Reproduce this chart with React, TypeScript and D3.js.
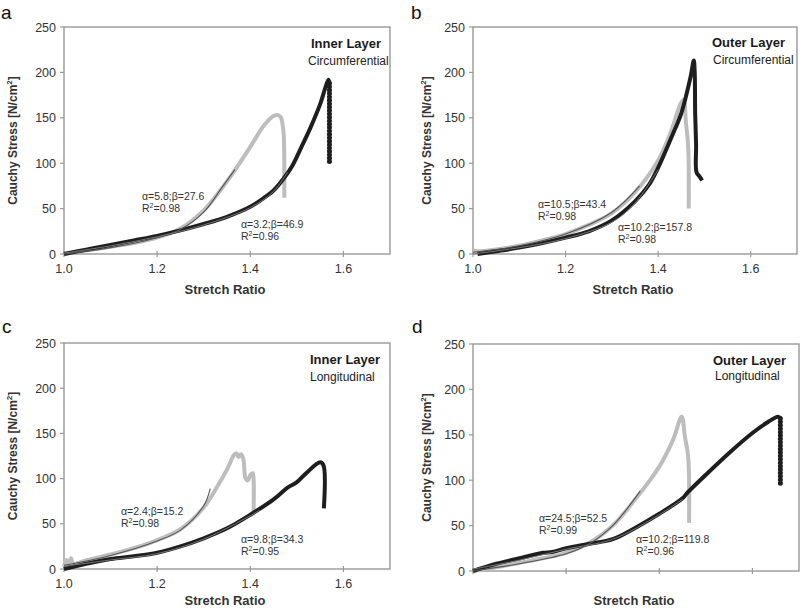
import * as d3 from "d3";

type Pt = [number, number];

// x ticks / y ticks shared by all four panels
const xTicks = [1.0, 1.2, 1.4, 1.6];
const yTicks = [0, 50, 100, 150, 200, 250];

// ---- panel a : inner layer, circumferential
const grayA: Pt[] = [[1.0, 0], [1.05, 4], [1.1, 8], [1.15, 12], [1.2, 18], [1.25, 28], [1.3, 48], [1.35, 80], [1.4, 118], [1.43, 142], [1.45, 152], [1.46, 153], [1.466, 150], [1.47, 140], [1.472, 130], [1.473, 100], [1.473, 62]];
const blackA: Pt[] = [[1.0, 0], [1.05, 5], [1.1, 10], [1.15, 15], [1.2, 20], [1.25, 26], [1.3, 33], [1.35, 41], [1.4, 52], [1.43, 62], [1.45, 70], [1.47, 82], [1.49, 97], [1.51, 118], [1.53, 140], [1.55, 165], [1.563, 186], [1.568, 192], [1.57, 188]];
const blackADrop: Pt[] = [[1.57, 188], [1.57, 101]];
const grayFitA: Pt[] = [[1.0, 0], [1.1, 7], [1.2, 18], [1.25, 27], [1.3, 46], [1.34, 74], [1.367, 93]];
const blackFitA: Pt[] = [[1.0, 1], [1.1, 9], [1.2, 19], [1.3, 32], [1.4, 51], [1.45, 69], [1.48, 90]];

// ---- panel b : outer layer, circumferential
const grayB: Pt[] = [[1.0, 4], [1.01, 3], [1.05, 5], [1.1, 9], [1.15, 15], [1.2, 22], [1.25, 32], [1.3, 45], [1.35, 68], [1.4, 103], [1.43, 138], [1.448, 165], [1.455, 170], [1.46, 145], [1.464, 125], [1.466, 100], [1.466, 50]];
const blackB: Pt[] = [[1.01, 0], [1.05, 3], [1.1, 7], [1.15, 12], [1.2, 18], [1.25, 25], [1.3, 37], [1.35, 58], [1.38, 76], [1.4, 95], [1.43, 130], [1.45, 155], [1.47, 195], [1.477, 213], [1.479, 200], [1.48, 155], [1.482, 120], [1.483, 90], [1.49, 85], [1.495, 81]];
const grayFitB: Pt[] = [[1.0, 2], [1.1, 9], [1.2, 22], [1.3, 46], [1.36, 75]];
const blackFitB: Pt[] = [[1.0, 0], [1.1, 7], [1.2, 17], [1.3, 35], [1.35, 56], [1.4, 93]];

// ---- panel c : inner layer, longitudinal
const grayC: Pt[] = [[1.0, 2], [1.005, 10], [1.01, 5], [1.015, 12], [1.02, 6], [1.05, 10], [1.1, 16], [1.15, 23], [1.2, 32], [1.25, 44], [1.3, 68], [1.33, 92], [1.35, 110], [1.365, 126], [1.37, 128], [1.375, 124], [1.38, 127], [1.385, 122], [1.39, 100], [1.395, 98], [1.4, 104], [1.405, 106], [1.407, 100], [1.407, 62]];
const blackC: Pt[] = [[1.0, 0], [1.05, 6], [1.1, 11], [1.15, 14], [1.2, 18], [1.25, 25], [1.3, 34], [1.35, 45], [1.4, 60], [1.45, 77], [1.48, 90], [1.5, 96], [1.52, 106], [1.55, 118], [1.557, 115], [1.558, 67]];
const grayFitC: Pt[] = [[1.0, 4], [1.1, 15], [1.2, 31], [1.25, 43], [1.3, 70], [1.314, 89]];
const blackFitC: Pt[] = [[1.0, 3], [1.1, 10], [1.2, 17], [1.3, 33], [1.4, 59], [1.42, 65]];

// ---- panel d : outer layer, longitudinal
const grayD: Pt[] = [[1.0, 0], [1.05, 4], [1.1, 9], [1.15, 14], [1.2, 20], [1.25, 31], [1.3, 50], [1.35, 80], [1.4, 115], [1.43, 145], [1.448, 170], [1.455, 148], [1.462, 126], [1.464, 53]];
const blackD: Pt[] = [[1.0, 0], [1.05, 8], [1.1, 14], [1.15, 20], [1.17, 21], [1.2, 25], [1.25, 30], [1.3, 35], [1.35, 48], [1.4, 63], [1.45, 80], [1.46, 86], [1.5, 106], [1.55, 130], [1.6, 152], [1.63, 163], [1.655, 170], [1.66, 168]];
const blackDDrop: Pt[] = [[1.66, 168], [1.66, 94]];
const grayFitD: Pt[] = [[1.0, 0], [1.1, 8], [1.2, 19], [1.25, 30], [1.3, 50], [1.359, 88]];
const blackFitD: Pt[] = [[1.0, 2], [1.1, 12], [1.2, 24], [1.3, 35], [1.4, 62], [1.45, 79]];

const fitLabels = [
  ["α=5.8;β=27.6", "0.98", "α=3.2;β=46.9", "0.96"],
  ["α=10.5;β=43.4", "0.98", "α=10.2;β=157.8", "0.98"],
  ["α=2.4;β=15.2", "0.98", "α=9.8;β=34.3", "0.95"],
  ["α=24.5;β=52.5", "0.99", "α=10.2;β=119.8", "0.96"],
];
const layerNames = ["Inner Layer", "Outer Layer", "Inner Layer", "Outer Layer"];
const directions = ["Circumferential", "Circumferential", "Longitudinal", "Longitudinal"];
const panelLetters = ["a", "b", "c", "d"];

// layout of each panel (pixels)
const panels = [
  { l: 64, t: 27, r: 390, b: 254, letter: [1, 19], yLab: 13, xTitle: 294, title: [311, 48, 308, 65], f1: [142, 200], f2: [241, 228], xLabels: true,
    gray: grayA, black: blackA, drop: blackADrop, grayFit: grayFitA, blackFit: blackFitA },
  { l: 473, t: 27, r: 797, b: 254, letter: [411, 19], yLab: 427, xTitle: 294, title: [712, 47, 713, 64], f1: [538, 208], f2: [618, 231], xLabels: true,
    gray: grayB, black: blackB, drop: null, grayFit: grayFitB, blackFit: blackFitB },
  { l: 64, t: 343, r: 390, b: 569, letter: [2, 333], yLab: 13, xTitle: 605, title: [310, 364, 310, 381], f1: [121, 515], f2: [241, 543], xLabels: true,
    gray: grayC, black: blackC, drop: null, grayFit: grayFitC, blackFit: blackFitC },
  { l: 473, t: 344, r: 799, b: 571, letter: [412, 333], yLab: 427, xTitle: 605, title: [713, 365, 715, 380], f1: [539, 522], f2: [636, 543], xLabels: false,
    gray: grayD, black: blackD, drop: blackDDrop, grayFit: grayFitD, blackFit: blackFitD },
];

const FONT = "'Liberation Sans', Arial, sans-serif";

function Panel({ p, i }: { p: (typeof panels)[number]; i: number }) {
  const x = d3.scaleLinear().domain([1.0, 1.7]).range([p.l, p.r]);
  const y = d3.scaleLinear().domain([0, 250]).range([p.b, p.t]);
  const line = d3.line<Pt>().x((d) => x(d[0])).y((d) => y(d[1])).curve(d3.curveCatmullRom.alpha(0.5));
  const straight = d3.line<Pt>().x((d) => x(d[0])).y((d) => y(d[1]));
  const [t1, t2, t3, t4] = fitLabels[i];
  const cx = (p.l + p.r) / 2 - 2;
  const cy = (p.t + p.b) / 2;

  return (
    <g fontFamily={FONT}>
      <text x={p.letter[0]} y={p.letter[1]} fontSize={19} fill="#111">{panelLetters[i]}</text>

      {/* frame */}
      <rect x={p.l} y={p.t} width={p.r - p.l} height={p.b - p.t} fill="#fff" stroke="#999" strokeWidth={1.4} />

      {yTicks.map((v) => (
        <g key={"y" + v}>
          <line x1={p.l - 4} x2={p.l} y1={y(v)} y2={y(v)} stroke="#999" strokeWidth={1.2} />
          <text x={p.l - 8} y={y(v) + 4.5} fontSize={12.5} fill="#333" textAnchor="end">{v}</text>
        </g>
      ))}
      {xTicks.map((v) => (
        <g key={"x" + v}>
          <line x1={x(v)} x2={x(v)} y1={p.b - 3} y2={p.b + 3} stroke="#999" strokeWidth={1.2} />
          {p.xLabels && (
            <text x={x(v)} y={p.b + 19} fontSize={12.5} fill="#333" textAnchor="middle">{v.toFixed(1)}</text>
          )}
        </g>
      ))}

      <text x={cx} y={p.xTitle} fontSize={13} fontWeight="bold" fill="#333" textAnchor="middle">Stretch Ratio</text>
      <text transform={`translate(${p.yLab + 4},${cy}) rotate(-90)`} fontSize={12} fontWeight="bold" fill="#333" textAnchor="middle">
        Cauchy Stress [N/cm<tspan fontSize={8} dy={-5}>2</tspan><tspan dy={5}>]</tspan>
      </text>

      {/* data curves */}
      <path d={line(p.gray) || ""} fill="none" stroke="#bdbdbd" strokeWidth={4} strokeLinejoin="round" />
      <path d={line(p.black) || ""} fill="none" stroke="#1e1e1e" strokeWidth={4} strokeLinejoin="round" />
      {p.drop && (
        <path d={straight(p.drop) || ""} fill="none" stroke="#1e1e1e" strokeWidth={5} strokeLinecap="round" strokeDasharray="0.1 3.3" />
      )}
      {/* fits */}
      <path d={line(p.grayFit) || ""} fill="none" stroke="#555" strokeWidth={1.1} />
      <path d={line(p.blackFit) || ""} fill="none" stroke="#777" strokeWidth={1} />

      {/* titles */}
      <text x={p.title[0]} y={p.title[1]} fontSize={13} fontWeight="bold" fill="#1a1a1a">{layerNames[i]}</text>
      <text x={p.title[2]} y={p.title[3]} fontSize={12} fill="#222">{directions[i]}</text>

      {/* fit annotations */}
      <g fontSize={10.5} fill="#333">
        <text x={p.f1[0]} y={p.f1[1]}>{t1}</text>
        <text x={p.f1[0]} y={p.f1[1] + 12}>R<tspan fontSize={7} dy={-4}>2</tspan><tspan dy={4}>={t2}</tspan></text>
        <text x={p.f2[0]} y={p.f2[1]}>{t3}</text>
        <text x={p.f2[0]} y={p.f2[1] + 12}>R<tspan fontSize={7} dy={-4}>2</tspan><tspan dy={4}>={t4}</tspan></text>
      </g>
    </g>
  );
}

export default function App() {
  return (
    <svg width={800} height={609} viewBox="0 0 800 609" style={{ position: "absolute", left: 0, top: 0, background: "#fff" }}>
      <rect width={800} height={609} fill="#fff" />
      {panels.map((p, i) => (
        <Panel key={i} p={p} i={i} />
      ))}
    </svg>
  );
}
